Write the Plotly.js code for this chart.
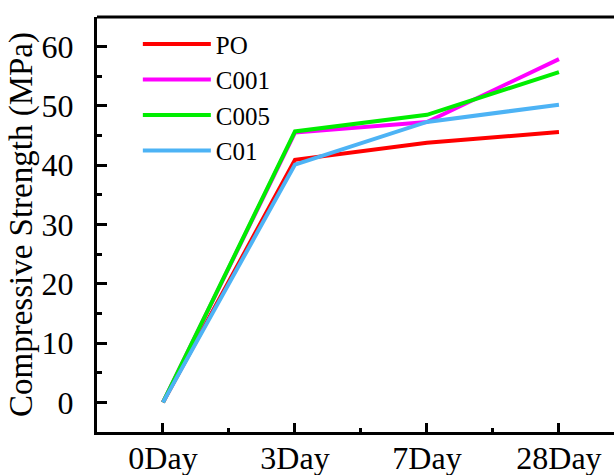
<!DOCTYPE html>
<html>
<head>
<meta charset="utf-8">
<script src="https://cdn.plot.ly/plotly-3.0.1.min.js"></script>
<style>html,body{margin:0;padding:0;background:#fff;overflow:hidden;}#chart{width:614px;height:475px;}</style>
</head>
<body>
<div id="chart"></div>
<script>
const categories = ["0Day", "3Day", "7Day", "28Day"];
const seriesNames = ["PO", "C001", "C005", "C01"];
const valuesPO = [0, 40.9, 43.8, 45.6];
const valuesC001 = [0, 45.5, 47.3, 57.9];
const valuesC005 = [0, 45.7, 48.5, 55.7];
const valuesC01 = [0, 40.1, 47.3, 50.2];
const colors = ["#ff0000", "#ff00ff", "#00ee00", "#4db3f5"];
const yTicks = [0, 10, 20, 30, 40, 50, 60];

const allValues = [valuesPO, valuesC001, valuesC005, valuesC01];
const traces = allValues.map((v, i) => ({
  type: "scatter",
  mode: "lines",
  x: categories.map((c, j) => j),
  y: v,
  name: seriesNames[i],
  line: {color: colors[i], width: 4}
}));

const font = {family: "Liberation Serif", color: "#000"};
const layout = {
  width: 614, height: 475,
  margin: {l: 97, r: 0, t: 17, b: 43},
  paper_bgcolor: "#fff", plot_bgcolor: "#fff",
  font: Object.assign({size: 25}, font),
  showlegend: true,
  legend: {
    x: 0.079, y: 0.99, xanchor: "left", yanchor: "top",
    font: Object.assign({size: 25}, font),
    itemwidth: 68, bgcolor: "rgba(0,0,0,0)", tracegroupgap: 0
  },
  xaxis: {
    range: [-0.5, 3.417],
    tickvals: categories.map((c, j) => j),
    ticktext: categories,
    showline: true, linecolor: "#000", linewidth: 3, mirror: false,
    ticks: "inside", ticklen: 9, tickwidth: 3, tickcolor: "#000",
    minor: {dtick: 1, tick0: 0.5, ticks: "inside", ticklen: 4, tickwidth: 3, tickcolor: "#000", showgrid: false},
    showgrid: false, zeroline: false,
    tickfont: Object.assign({size: 32}, font),
    ticklabelstandoff: -4
  },
  yaxis: {
    range: [-5, 65],
    tickvals: yTicks,
    showline: true, linecolor: "#000", linewidth: 3, mirror: false,
    ticks: "inside", ticklen: 10, tickwidth: 3, tickcolor: "#000",
    minor: {dtick: 10, tick0: 5, ticks: "inside", ticklen: 5, tickwidth: 3, tickcolor: "#000", showgrid: false},
    showgrid: false, zeroline: false,
    tickfont: Object.assign({size: 32}, font),
    ticklabelstandoff: 14,
    title: {text: "Compressive Strength (MPa)", font: Object.assign({size: 33}, font), standoff: 0}
  },
  shapes: [{type: "line", xref: "paper", yref: "paper", x0: 0, x1: 1, y0: 1, y1: 1, line: {color: "#000", width: 3}}]
};
Plotly.newPlot("chart", traces, layout, {displayModeBar: false, staticPlot: true});
</script>
</body>
</html>
